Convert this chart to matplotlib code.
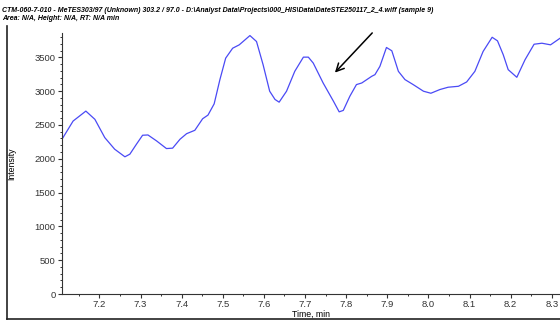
import numpy as np
import matplotlib
matplotlib.use('Agg')
import matplotlib.pyplot as plt
from matplotlib import font_manager
from matplotlib.ticker import MultipleLocator
from matplotlib.lines import Line2D

# chromatogram trace (time in min, intensity in counts)
time_min = [7.109, 7.136, 7.167, 7.189, 7.213, 7.237, 7.262, 7.274, 7.290, 7.305,
            7.318, 7.339, 7.363, 7.378, 7.396, 7.412, 7.432, 7.451, 7.464, 7.479,
            7.493, 7.507, 7.524, 7.540, 7.566, 7.582, 7.598, 7.614, 7.627, 7.637,
            7.655, 7.675, 7.696, 7.708, 7.720, 7.744, 7.769, 7.783, 7.793, 7.809,
            7.825, 7.838, 7.862, 7.870, 7.882, 7.898, 7.911, 7.927, 7.943, 7.963,
            7.988, 8.006, 8.028, 8.048, 8.073, 8.093, 8.113, 8.133, 8.155, 8.168,
            8.182, 8.194, 8.215, 8.235, 8.257, 8.276, 8.297, 8.320]
intensity = [2289, 2558, 2705, 2583, 2313, 2142, 2029, 2068, 2215, 2348,
             2352, 2264, 2151, 2157, 2289, 2371, 2421, 2592, 2646, 2812,
             3171, 3488, 3635, 3685, 3822, 3734, 3391, 2999, 2877, 2837,
             2999, 3293, 3503, 3503, 3415, 3121, 2852, 2694, 2715, 2925,
             3097, 3121, 3219, 3244, 3366, 3646, 3597, 3293, 3171, 3097,
             2999, 2969, 3024, 3058, 3072, 3136, 3293, 3587, 3797, 3744,
             3538, 3318, 3205, 3465, 3694, 3709, 3685, 3782]

x_ticks = [7.2, 7.3, 7.4, 7.5, 7.6, 7.7, 7.8, 7.9, 8.0, 8.1, 8.2, 8.3]
y_ticks = [0, 500, 1000, 1500, 2000, 2500, 3000, 3500]

title_1 = ('CTM-060-7-010 - MeTES303/97 (Unknown) 303.2 / 97.0 - '
           'D:\\Analyst Data\\Projects\\000_HIS\\Data\\DateSTE250117_2_4.wiff (sample 9)')
title_2 = 'Area: N/A, Height: N/A, RT: N/A min'

names = {f.name for f in font_manager.fontManager.ttflist}
narrow = 'Liberation Sans Narrow' if 'Liberation Sans Narrow' in names else 'Liberation Sans'
plt.rcParams['font.family'] = [narrow, 'DejaVu Sans']
title_size = 6.4 if narrow == 'Liberation Sans Narrow' else 5.0

fig = plt.figure(figsize=(5.6, 3.23), dpi=100)
ax = fig.add_axes([62 / 560, 29 / 323, 498 / 560, 261 / 323])

ax.plot(time_min, intensity, color='#4a4af5', lw=0.9)
ax.set_xlim(7.109, 8.320)
ax.set_ylim(0, 3860)

ax.set_xticks(x_ticks)
ax.set_xticklabels([f'{v:.1f}' for v in x_ticks])
ax.set_yticks(y_ticks)
ax.xaxis.set_minor_locator(MultipleLocator(0.05))
ax.yaxis.set_minor_locator(MultipleLocator(100))
ax.tick_params(axis='both', which='major', labelsize=6.8, length=3, width=0.8,
               color='#333333', labelcolor='#333333', pad=1.5)
ax.tick_params(axis='both', which='minor', length=1.5, width=0.7, color='#333333')

for side in ['top', 'right']:
    ax.spines[side].set_visible(False)
for side in ['left', 'bottom']:
    ax.spines[side].set_linewidth(0.8)
    ax.spines[side].set_color('#333333')

ax.set_xlabel('Time, min', fontsize=6.3)
ax.set_ylabel('Intensity', fontsize=6.3)
ax.yaxis.set_label_coords(-46 / 498, 0.5)
ax.xaxis.set_label_coords(0.5, -0.06)

# arrow marking the shoulder
ax.annotate('', xy=(7.768, 3244), xytext=(7.868, 3891),
            arrowprops=dict(arrowstyle='->', color='black', lw=1.1,
                            mutation_scale=14),
            annotation_clip=False)

fig.text(2 / 560, 1 - 10 / 323, title_1, fontsize=title_size, fontweight='bold',
         fontstyle='italic', va='center', ha='left')
fig.text(2 / 560, 1 - 19 / 323, title_2, fontsize=title_size, fontweight='bold',
         fontstyle='italic', va='center', ha='left')

# frame around the plot area
fig.add_artist(Line2D([6.5 / 560, 6.5 / 560], [4 / 323, 1 - 26 / 323],
                      color='#222222', lw=1.2, transform=fig.transFigure))
fig.add_artist(Line2D([6.5 / 560, 1.0], [4 / 323, 4 / 323],
                      color='#222222', lw=1.2, transform=fig.transFigure))

fig.savefig('out.png', dpi=100)
